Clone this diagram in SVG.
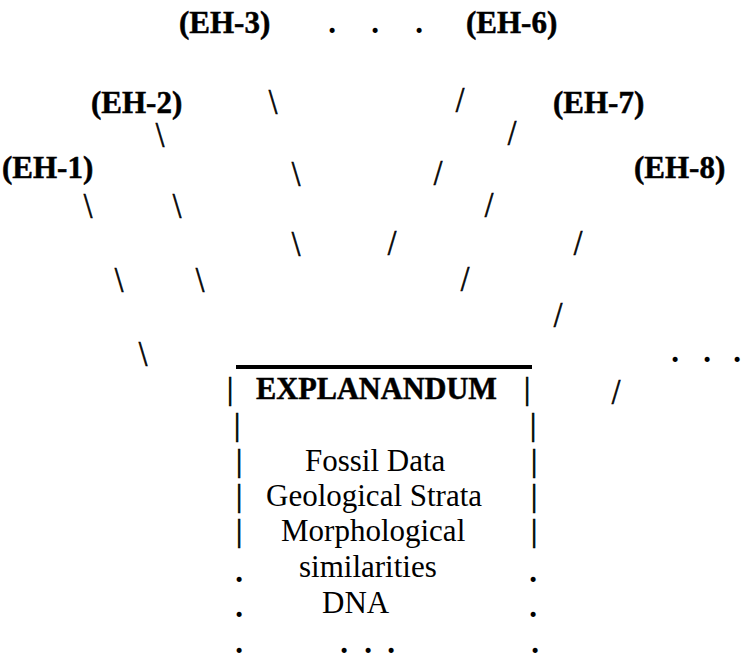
<svg xmlns="http://www.w3.org/2000/svg" width="741" height="660" viewBox="0 0 741 660">
  <style>
    text { font-family: "Liberation Serif", "Times New Roman", serif; fill: #000; }
    .lbl { font-size: 31px; font-weight: bold; stroke: #000; stroke-width: 0.5px; }
    .body { font-size: 31px; }
    .sl { font-size: 31px; text-anchor: middle; stroke: #000; stroke-width: 0.6px; }
    .dot { font-size: 31px; font-weight: bold; text-anchor: middle; }
    .bar { font-size: 31px; text-anchor: middle; stroke: #000; stroke-width: 0.7px; }
  </style>
  <rect width="741" height="660" fill="#fff"/>

  <!-- hypothesis nodes -->
  <g id="eh1"><text class="lbl" x="2" y="178">(EH-1)</text></g>
  <g id="eh2"><text class="lbl" x="91" y="113">(EH-2)</text></g>
  <g id="eh3"><text class="lbl" x="179" y="33">(EH-3)</text></g>
  <g id="eh6"><text class="lbl" x="466" y="33">(EH-6)</text></g>
  <g id="eh7"><text class="lbl" x="553" y="113">(EH-7)</text></g>
  <g id="eh8"><text class="lbl" x="634" y="178">(EH-8)</text></g>

  <!-- connectors: slashes (stretched a little upright) and ellipsis dots -->
  <g id="connectors">
    <text class="dot" x="332" y="33">.</text>
    <text class="dot" x="375" y="33">.</text>
    <text class="dot" x="419" y="33">.</text>

    <text class="sl" transform="translate(273 114) scale(1 1.15)">\</text>
    <text class="sl" transform="translate(460 112) scale(1 1.15)">/</text>

    <text class="sl" transform="translate(160 147) scale(1 1.15)">\</text>
    <text class="sl" transform="translate(512 145) scale(1 1.15)">/</text>

    <text class="sl" transform="translate(296 186) scale(1 1.15)">\</text>
    <text class="sl" transform="translate(438 185) scale(1 1.15)">/</text>

    <text class="sl" transform="translate(88 218) scale(1 1.15)">\</text>
    <text class="sl" transform="translate(177 218) scale(1 1.15)">\</text>
    <text class="sl" transform="translate(489 217) scale(1 1.15)">/</text>

    <text class="sl" transform="translate(296 256) scale(1 1.15)">\</text>
    <text class="sl" transform="translate(392 255) scale(1 1.15)">/</text>
    <text class="sl" transform="translate(578 255) scale(1 1.15)">/</text>

    <text class="sl" transform="translate(119 292) scale(1 1.15)">\</text>
    <text class="sl" transform="translate(200 292) scale(1 1.15)">\</text>
    <text class="sl" transform="translate(465 291) scale(1 1.15)">/</text>

    <text class="sl" transform="translate(558 327) scale(1 1.15)">/</text>

    <text class="sl" transform="translate(143 366) scale(1 1.15)">\</text>
    <text class="dot" x="675" y="362">.</text>
    <text class="dot" x="707" y="362">.</text>
    <text class="dot" x="737" y="362">.</text>

    <text class="sl" transform="translate(616 404) scale(1 1.15)">/</text>
  </g>

  <!-- explanandum box -->
  <g id="explanandum">
    <line x1="236" y1="367" x2="532" y2="367" stroke="#000" stroke-width="4"/>
    <text class="bar" x="230" y="399">|</text>
    <text class="lbl" x="256" y="399" textLength="241" lengthAdjust="spacingAndGlyphs">EXPLANANDUM</text>
    <text class="bar" x="527" y="399">|</text>

    <text class="bar" x="237" y="435">|</text>
    <text class="bar" x="533" y="435">|</text>

    <text class="bar" x="239" y="471">|</text>
    <text class="body" x="305" y="471">Fossil Data</text>
    <text class="bar" x="534" y="471">|</text>

    <text class="bar" x="239" y="506">|</text>
    <text class="body" x="266" y="506">Geological Strata</text>
    <text class="bar" x="534" y="506">|</text>

    <text class="bar" x="239" y="541">|</text>
    <text class="body" x="281" y="541">Morphological</text>
    <text class="bar" x="534" y="541">|</text>

    <text class="dot" x="239" y="582">.</text>
    <text class="body" x="299" y="577">similarities</text>
    <text class="dot" x="533" y="582">.</text>

    <text class="dot" x="239" y="617">.</text>
    <text class="body" x="322" y="613">DNA</text>
    <text class="dot" x="533" y="617">.</text>

    <text class="dot" x="239" y="653">.</text>
    <text class="dot" x="344" y="653">.</text>
    <text class="dot" x="368" y="653">.</text>
    <text class="dot" x="391" y="653">.</text>
    <text class="dot" x="535" y="653">.</text>
  </g>
</svg>
